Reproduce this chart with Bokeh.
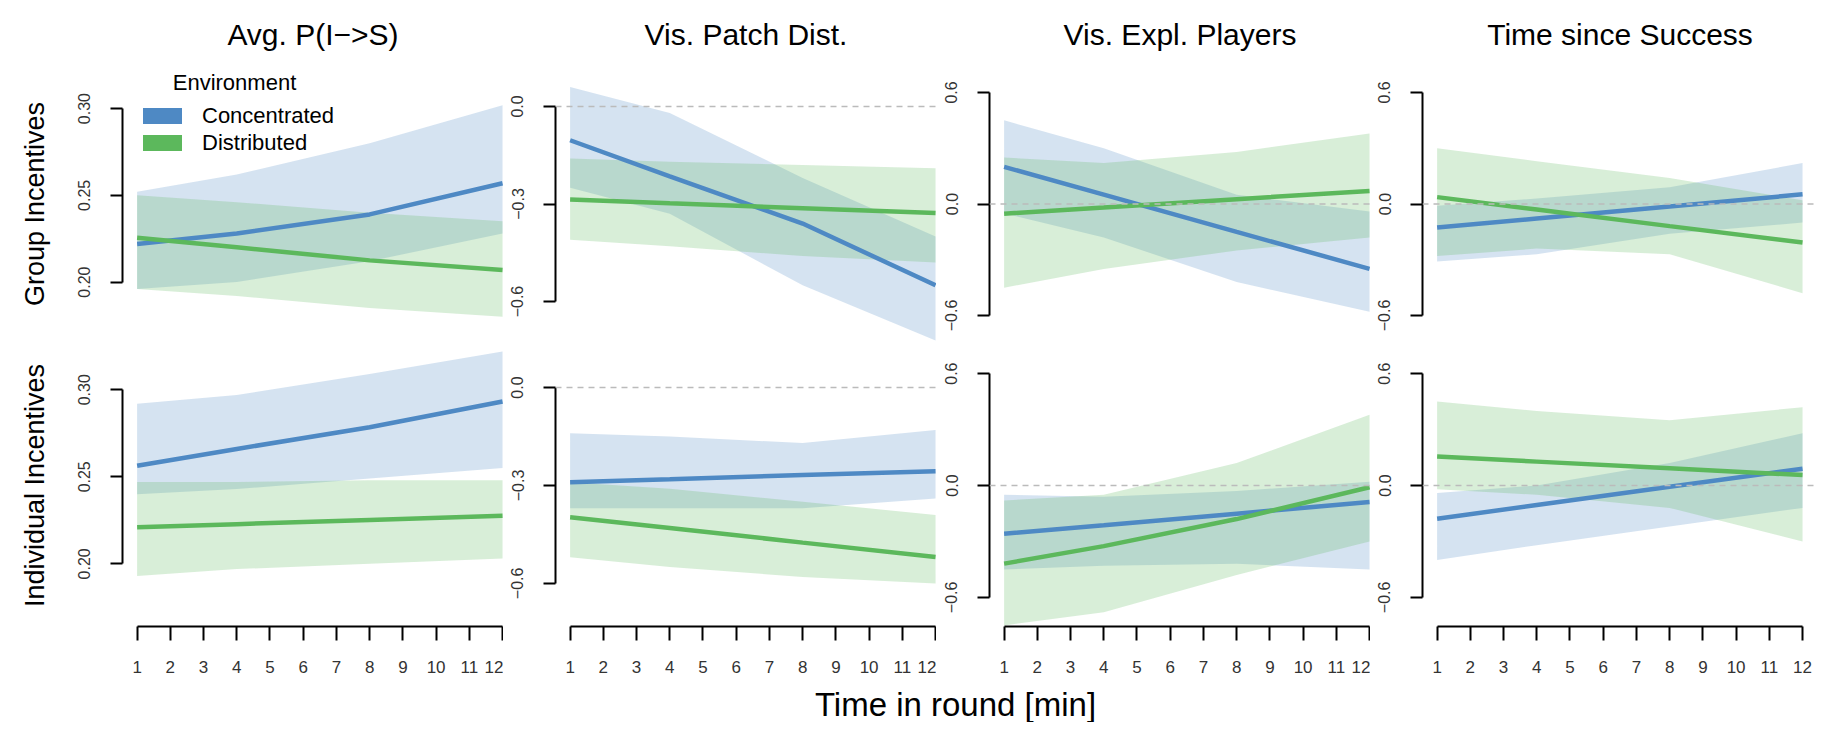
from bokeh.plotting import figure
from bokeh.layouts import row, column
from bokeh.models import Range1d, FixedTicker, Span, Legend, LegendItem, Label, ColumnDataSource
from bokeh.embed import file_html
from bokeh.resources import INLINE

# ---------------- data ----------------
MINUTES = [1, 4, 8, 12]
X_TICKS = list(range(1, 13))
COL_TITLES = ["Avg. P(I\u2212>S)", "Vis. Patch Dist.", "Vis. Expl. Players", "Time since Success"]
ROW_LABELS = ["Group Incentives", "Individual Incentives"]
ENV_NAMES = ["Concentrated", "Distributed"]
X_TITLE = "Time in round [min]"
LEGEND_TITLE = "Environment"
Y_LIMS = [(0.17, 0.32), (-0.7, 0.1), (-0.7, 0.7), (-0.7, 0.7)]
Y_TICKS = [[0.20, 0.25, 0.30], [-0.6, -0.3, 0.0], [-0.6, 0.0, 0.6], [-0.6, 0.0, 0.6]]
Y_TICK_LABELS = [["0.20", "0.25", "0.30"], ["\u22120.6", "\u22120.3", "0.0"],
                 ["\u22120.6", "0.0", "0.6"], ["\u22120.6", "0.0", "0.6"]]

# Group incentives -------------------------------------------------
grp_avgp_conc = [0.222, 0.228, 0.239, 0.257]
grp_avgp_conc_lo = [0.196, 0.200, 0.212, 0.228]
grp_avgp_conc_hi = [0.252, 0.262, 0.280, 0.302]
grp_avgp_dist = [0.2255, 0.220, 0.2125, 0.207]
grp_avgp_dist_lo = [0.196, 0.192, 0.185, 0.180]
grp_avgp_dist_hi = [0.250, 0.246, 0.240, 0.235]

grp_patch_conc = [-0.104, -0.215, -0.360, -0.550]
grp_patch_conc_lo = [-0.25, -0.33, -0.55, -0.72]
grp_patch_conc_hi = [0.06, -0.02, -0.22, -0.40]
grp_patch_dist = [-0.286, -0.298, -0.313, -0.328]
grp_patch_dist_lo = [-0.41, -0.43, -0.46, -0.48]
grp_patch_dist_hi = [-0.16, -0.17, -0.18, -0.19]

grp_expl_conc = [0.200, 0.050, -0.150, -0.349]
grp_expl_conc_lo = [-0.05, -0.18, -0.42, -0.58]
grp_expl_conc_hi = [0.45, 0.30, 0.05, -0.04]
grp_expl_dist = [-0.052, -0.019, 0.026, 0.070]
grp_expl_dist_lo = [-0.45, -0.35, -0.25, -0.18]
grp_expl_dist_hi = [0.25, 0.22, 0.28, 0.38]

grp_time_conc = [-0.127, -0.078, -0.013, 0.052]
grp_time_conc_lo = [-0.31, -0.27, -0.16, -0.10]
grp_time_conc_hi = [-0.01, 0.03, 0.09, 0.22]
grp_time_dist = [0.037, -0.030, -0.119, -0.207]
grp_time_dist_lo = [-0.28, -0.24, -0.27, -0.48]
grp_time_dist_hi = [0.30, 0.23, 0.14, 0.02]

# Individual incentives --------------------------------------------
ind_avgp_conc = [0.2563, 0.266, 0.2785, 0.2933]
ind_avgp_conc_lo = [0.240, 0.243, 0.249, 0.255]
ind_avgp_conc_hi = [0.292, 0.297, 0.309, 0.322]
ind_avgp_dist = [0.221, 0.2228, 0.2252, 0.2276]
ind_avgp_dist_lo = [0.193, 0.197, 0.200, 0.203]
ind_avgp_dist_hi = [0.247, 0.247, 0.248, 0.248]

ind_patch_conc = [-0.290, -0.281, -0.268, -0.256]
ind_patch_conc_lo = [-0.37, -0.37, -0.37, -0.34]
ind_patch_conc_hi = [-0.14, -0.15, -0.17, -0.13]
ind_patch_dist = [-0.397, -0.430, -0.475, -0.519]
ind_patch_dist_lo = [-0.52, -0.55, -0.58, -0.60]
ind_patch_dist_hi = [-0.29, -0.31, -0.35, -0.39]

ind_expl_conc = [-0.259, -0.213, -0.151, -0.089]
ind_expl_conc_lo = [-0.45, -0.43, -0.42, -0.45]
ind_expl_conc_hi = [-0.05, -0.06, -0.03, 0.02]
ind_expl_dist = [-0.419, -0.325, -0.180, -0.009]
ind_expl_dist_lo = [-0.75, -0.68, -0.48, -0.30]
ind_expl_dist_hi = [-0.08, -0.05, 0.12, 0.38]

ind_time_conc = [-0.178, -0.105, -0.007, 0.090]
ind_time_conc_lo = [-0.40, -0.32, -0.22, -0.12]
ind_time_conc_hi = [-0.04, 0.00, 0.12, 0.28]
ind_time_dist = [0.155, 0.128, 0.092, 0.056]
ind_time_dist_lo = [-0.02, -0.05, -0.12, -0.30]
ind_time_dist_hi = [0.45, 0.40, 0.35, 0.42]

PANELS = [
    [
        [(grp_avgp_conc, grp_avgp_conc_lo, grp_avgp_conc_hi), (grp_avgp_dist, grp_avgp_dist_lo, grp_avgp_dist_hi)],
        [(grp_patch_conc, grp_patch_conc_lo, grp_patch_conc_hi), (grp_patch_dist, grp_patch_dist_lo, grp_patch_dist_hi)],
        [(grp_expl_conc, grp_expl_conc_lo, grp_expl_conc_hi), (grp_expl_dist, grp_expl_dist_lo, grp_expl_dist_hi)],
        [(grp_time_conc, grp_time_conc_lo, grp_time_conc_hi), (grp_time_dist, grp_time_dist_lo, grp_time_dist_hi)],
    ],
    [
        [(ind_avgp_conc, ind_avgp_conc_lo, ind_avgp_conc_hi), (ind_avgp_dist, ind_avgp_dist_lo, ind_avgp_dist_hi)],
        [(ind_patch_conc, ind_patch_conc_lo, ind_patch_conc_hi), (ind_patch_dist, ind_patch_dist_lo, ind_patch_dist_hi)],
        [(ind_expl_conc, ind_expl_conc_lo, ind_expl_conc_hi), (ind_expl_dist, ind_expl_dist_lo, ind_expl_dist_hi)],
        [(ind_time_conc, ind_time_conc_lo, ind_time_conc_hi), (ind_time_dist, ind_time_dist_lo, ind_time_dist_hi)],
    ],
]

# ---------------- styling ----------------
FONT = "Liberation Sans"
COLORS = ["#4E89C4", "#5CB85C"]
BAND_ALPHA = 0.24
FRAME_W = [381, 381, 381, 395]
LEFT_B = [122, 52, 53, 52]
FRAME_H = [281, 282]
TOP_B = 63
PX_PER_MIN = 33.22
X0 = 1 - 0.04 * 11
NAN = float("nan")


def make_panel(r, c):
    lo, hi = Y_LIMS[c]
    pad = 0.04 * (hi - lo)
    p = figure(frame_width=FRAME_W[c], frame_height=FRAME_H[r],
               x_range=Range1d(X0, X0 + FRAME_W[c] / PX_PER_MIN),
               y_range=Range1d(lo - pad, hi + pad),
               output_backend="svg", toolbar_location=None,
               x_axis_location=("below" if r == 1 else None),
               min_border_left=LEFT_B[c], min_border_right=0,
               min_border_top=(TOP_B if r == 0 else 0),
               min_border_bottom=(56 if r == 1 else 0))
    p.outline_line_color = None
    p.grid.visible = False
    p.background_fill_color = "white"
    p.border_fill_color = "white"

    ya = p.yaxis[0]
    ya.ticker = FixedTicker(ticks=Y_TICKS[c])
    ya.bounds = (Y_TICKS[c][0], Y_TICKS[c][-1])
    ya.major_label_overrides = {t: s for t, s in zip(Y_TICKS[c], Y_TICK_LABELS[c])}
    ya.major_tick_out = 12
    ya.major_tick_in = 0
    ya.minor_tick_out = 0
    ya.minor_tick_in = 0
    ya.axis_line_width = 2
    ya.major_tick_line_width = 2
    ya.major_label_orientation = "parallel"
    ya.major_label_standoff = 20
    ya.major_label_text_font = FONT
    ya.major_label_text_font_size = "16px"
    ya.major_label_text_color = "#333333"
    if c == 0:
        ya.axis_label = ROW_LABELS[r]
        ya.axis_label_text_font = FONT
        ya.axis_label_text_font_size = "27px"
        ya.axis_label_text_font_style = "normal"
        ya.axis_label_text_color = "black"
        ya.axis_label_standoff = 26

    if r == 1:
        xa = p.xaxis[0]
        xa.ticker = FixedTicker(ticks=X_TICKS)
        xa.bounds = (X_TICKS[0], X_TICKS[-1])
        xa.major_tick_out = 14
        xa.major_tick_in = 0
        xa.minor_tick_out = 0
        xa.minor_tick_in = 0
        xa.axis_line_width = 2
        xa.major_tick_line_width = 2
        xa.major_label_standoff = 20
        xa.major_label_text_font = FONT
        xa.major_label_text_font_size = "17px"
        xa.major_label_text_color = "#333333"

    if r == 0:
        p.title.text = COL_TITLES[c]
        p.title.align = "center"
        p.title.text_font = FONT
        p.title.text_font_size = "30px"
        p.title.text_font_style = "normal"
        p.title.text_color = "black"
        p.title.standoff = 26
        if c < 3:
            p.title.offset = 7

    series = PANELS[r][c]
    for k, (mean, blo, bhi) in enumerate(series):
        p.varea(x=MINUTES, y1=blo, y2=bhi, fill_color=COLORS[k], fill_alpha=BAND_ALPHA)
    for k, (mean, blo, bhi) in enumerate(series):
        p.line(x=MINUTES, y=mean, line_color=COLORS[k], line_width=4.5)

    if c >= 1:
        p.add_layout(Span(location=0, dimension="width", line_color="#BBBBBB",
                          line_dash="6 5", line_width=1.5))

    if r == 0 and c == 0:
        items = []
        for k, name in enumerate(ENV_NAMES):
            src = ColumnDataSource(data=dict(x=[NAN], y=[NAN]))
            rr = p.line(x="x", y="y", source=src, line_color=COLORS[k],
                        line_width=16, line_cap="round", line_join="round")
            items.append(LegendItem(label=name, renderers=[rr]))
        leg = Legend(items=items, location=(21, 188), orientation="vertical",
                     glyph_width=39, glyph_height=27, label_height=27,
                     label_standoff=20, spacing=0, padding=0, margin=0,
                     border_line_alpha=0, background_fill_alpha=0,
                     label_text_font=FONT, label_text_font_size="22px",
                     label_text_color="black")
        p.add_layout(leg, "center")
        p.add_layout(Label(x=112, y=262, x_units="screen", y_units="screen",
                           text=LEGEND_TITLE, text_align="center", text_baseline="middle",
                           text_font=FONT, text_font_size="22px", text_color="black"))
    return p


top = [make_panel(0, c) for c in range(4)]
bottom = [make_panel(1, c) for c in range(4)]

strip = figure(width=sum(FRAME_W) + sum(LEFT_B), height=40, output_backend="svg",
               toolbar_location=None, x_axis_location=None, y_axis_location=None,
               min_border=0)
strip.outline_line_color = None
strip.grid.visible = False
strip.add_layout(Label(x=955, y=18, x_units="screen", y_units="screen", text=X_TITLE,
                       text_align="center", text_baseline="middle",
                       text_font=FONT, text_font_size="33px", text_color="black"))

layout = column(row(*top), row(*bottom), strip)
open("out.html", "w").write(file_html(layout, INLINE))
